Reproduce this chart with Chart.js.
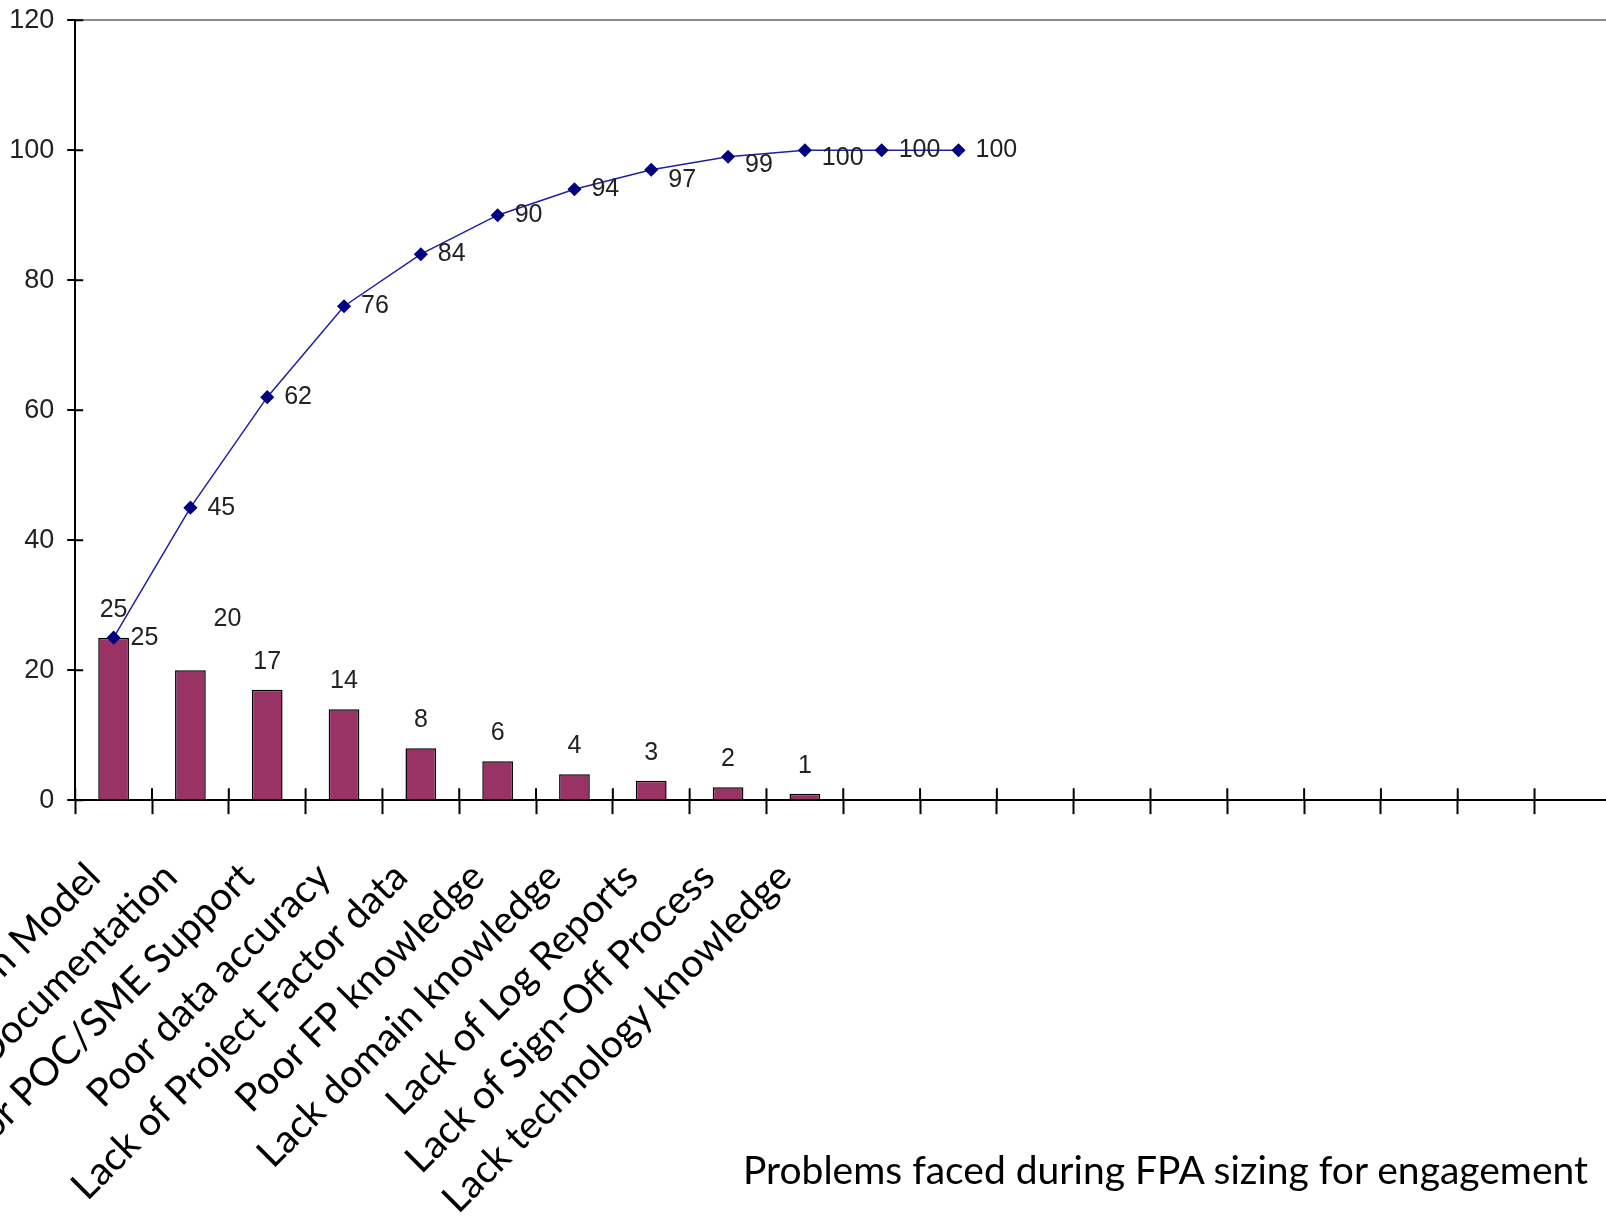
<!DOCTYPE html>
<html>
<head>
<meta charset="utf-8">
<title>FPA sizing problems</title>
<script src="https://cdn.jsdelivr.net/npm/chart.js@4.4.0/dist/chart.umd.min.js"></script>
<style>
  html, body { margin: 0; padding: 0; background: #fff; overflow: hidden; }
  body { width: 1606px; height: 1216px; position: relative; }
  #myChart { position: absolute; left: 0; top: 0; }
  #xTitle {
    position: absolute; right: 18px; top: 1150px;
    font: 39px Lato, 'Open Sans', sans-serif; line-height: 1;
    color: #000; white-space: nowrap;
  }
</style>
</head>
<body>
<canvas id="myChart" width="1860" height="1200"></canvas>
<div id="xTitle">Problems faced during FPA sizing for engagement</div>
<script>
// problem categories (first ones are cut off by the left edge in the original)
const causes = [
  'Lack of Estimation Model',
  'Lack of Documentation',
  'Poor POC/SME Support',
  'Poor data accuracy',
  'Lack of Project Factor data',
  'Poor FP knowledge',
  'Lack domain knowledge',
  'Lack of Log Reports',
  'Lack of Sign-Off Process',
  'Lack technology knowledge'
];
const counts = [25, 20, 17, 14, 8, 6, 4, 3, 2, 1];
const cumulative = [25, 45, 62, 76, 84, 90, 94, 97, 99, 100, 100, 100];
const slotCount = 20;
const yMin = 0, yMax = 120, yStep = 20;

const labels = causes.concat(Array(slotCount - causes.length).fill(''));

const numFont = "'Liberation Sans Narrow', 'Liberation Sans', Arial, sans-serif";

// label nudges, like the hand-moved labels in the excel original
const barNudge = { 1: { dx: 37, dy: -23 } };
const lineNudge = { 7: 10, 8: 8, 9: 8 };

const valueLabels = {
  id: 'valueLabels',
  afterDatasetsDraw(chart) {
    const c = chart.ctx;
    c.save();
    c.font = '25px ' + numFont;
    c.fillStyle = '#222';
    c.textBaseline = 'middle';
    const bars = chart.data.datasets[1].data;
    chart.getDatasetMeta(1).data.forEach((bar, i) => {
      const n = barNudge[i] || { dx: 0, dy: 0 };
      c.textAlign = 'center';
      c.fillText(bars[i], bar.x + n.dx, bar.y - 28 + n.dy);
    });
    const pts = chart.data.datasets[0].data;
    chart.getDatasetMeta(0).data.forEach((pt, i) => {
      c.textAlign = 'left';
      c.fillText(pts[i], pt.x + 17, pt.y + (lineNudge[i] || 0));
    });
    c.restore();
  }
};

// excel style tick marks cross the axis line
const crossTicks = {
  id: 'crossTicks',
  afterDraw(chart) {
    const { ctx: c, chartArea: a, scales: { x, y } } = chart;
    c.save();
    c.strokeStyle = '#000';
    c.lineWidth = 2;
    c.beginPath();
    const half = (x.getPixelForTick(1) - x.getPixelForTick(0)) / 2;
    for (let i = 0; i <= x.ticks.length; i++) {
      const px = x.getPixelForTick(0) - half + i * 2 * half;
      c.moveTo(px, a.bottom);
      c.lineTo(px, a.bottom - 12);
    }
    y.ticks.forEach(t => {
      const py = y.getPixelForValue(t.value);
      c.moveTo(a.left, py);
      c.lineTo(a.left + 8, py);
    });
    c.stroke();
    c.restore();
  }
};

const canvas = document.getElementById('myChart');
const chart = new Chart(canvas, {
  type: 'bar',
  data: {
    labels: labels,
    datasets: [
      {
        type: 'line',
        data: cumulative,
        order: 0,
        borderColor: '#2020a0',
        borderWidth: 1.5,
        backgroundColor: '#000080',
        pointStyle: 'rectRot',
        pointRadius: 6,
        pointBackgroundColor: '#000080',
        pointBorderColor: '#000080',
        tension: 0
      },
      {
        data: counts,
        order: 1,
        backgroundColor: '#993366',
        borderColor: '#000',
        borderWidth: 1.5,
        categoryPercentage: 1,
        barPercentage: 0.4
      }
    ]
  },
  options: {
    responsive: false,
    maintainAspectRatio: false,
    animation: false,
    plugins: { legend: { display: false }, tooltip: { enabled: false } },
    scales: {
      x: {
        grid: { drawOnChartArea: false, tickLength: 14, tickColor: '#000', tickWidth: 2, color: '#000' },
        border: { color: '#000', width: 2 },
        ticks: {
          autoSkip: false, minRotation: 45, maxRotation: 45, padding: 30, labelOffset: -20,
          color: '#000', font: { family: "Lato, 'Open Sans', sans-serif", size: 39, lineHeight: 1.9 }
        }
      },
      y: {
        min: yMin, max: yMax,
        grid: {
          color: c => c.tick && c.tick.value === yMax ? '#8c8c8c' : 'rgba(0,0,0,0)',
          lineWidth: 2, tickLength: 8, tickColor: '#000', tickWidth: 2
        },
        border: { color: '#000', width: 2 },
        ticks: { stepSize: yStep, padding: 13, color: '#222', font: { family: numFont, size: 27 } }
      }
    }
  },
  plugins: [valueLabels, crossTicks]
});

// fit the plot box to the original: y axis at x=75, top 20, baseline 800
const target = { left: 75, top: 20, right: 1611, bottom: 800 };
for (let i = 0; i < 4; i++) {
  const a = chart.chartArea;
  const w = Math.round(chart.width + (target.right - target.left) - (a.right - a.left));
  const h = Math.round(chart.height + (target.bottom - target.top) - (a.bottom - a.top));
  chart.resize(w, h);
}
canvas.style.left = (target.left - chart.chartArea.left) + 'px';
canvas.style.top = (target.top - chart.chartArea.top) + 'px';
</script>
</body>
</html>
